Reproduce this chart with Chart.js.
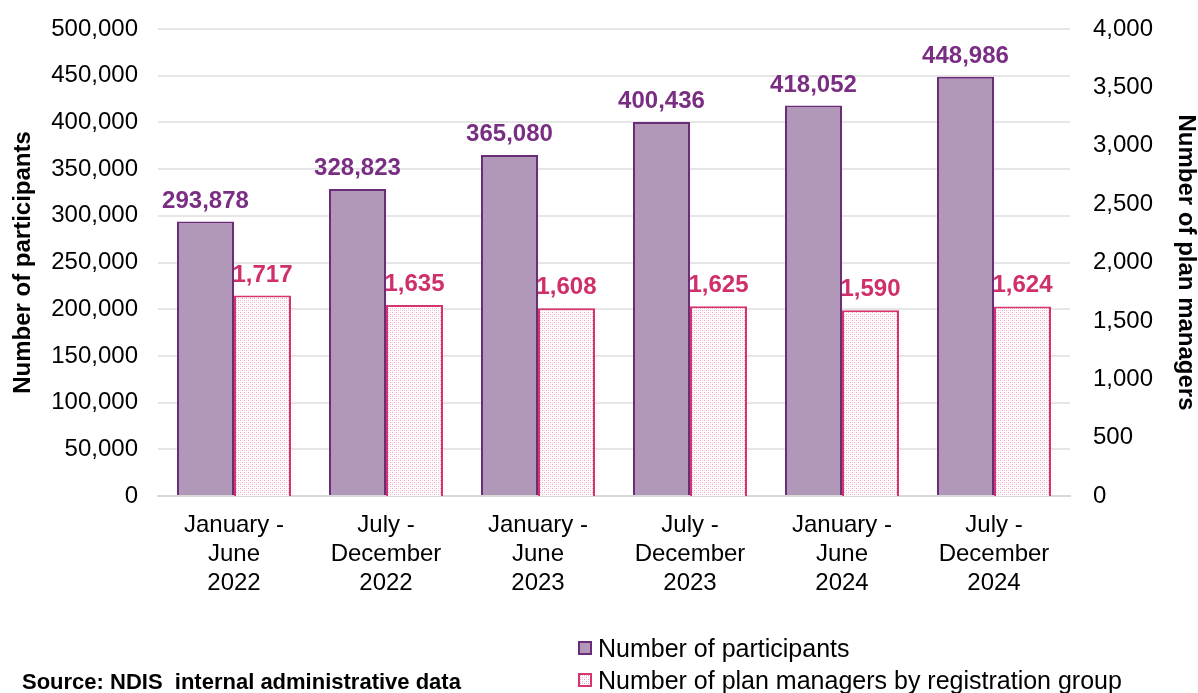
<!DOCTYPE html>
<html>
<head>
<meta charset="utf-8">
<script src="https://cdn.jsdelivr.net/npm/chart.js@4.4.1/dist/chart.umd.min.js"></script>
<style>
  html, body { margin: 0; padding: 0; background: #fff; }
  #wrap { position: relative; width: 1198px; height: 693px; font-family: 'Liberation Sans', Arial, sans-serif; }
  #chart { position: absolute; left: 0; top: 0; }
  .legend { position: absolute; left: 578px; top: 632px; font-size: 25px; color: #000; }
  .legend div { height: 32px; line-height: 32px; display: flex; align-items: center; }
  .legend span.box { display: inline-block; width: 14px; height: 14px; margin-right: 6px; box-sizing: border-box; }
  .source { position: absolute; left: 22px; top: 669px; font-size: 22px; font-weight: bold; color: #000; white-space: pre; }
</style>
</head>
<body>
<div id="wrap">
  <canvas id="chart" width="1198" height="693"></canvas>
  <div class="legend">
    <div><span class="box" style="background:#B197B8;border:2px solid #6B2C7A"></span>Number of participants</div>
    <div><span class="box" id="pmBox" style="border:2px solid #D6336F"></span>Number of plan managers by registration group</div>
  </div>
  <div class="source">Source: NDIS  internal administrative data</div>
</div>
<script>
const periods = [
  ['January -', 'June', '2022'],
  ['July -', 'December', '2022'],
  ['January -', 'June', '2023'],
  ['July -', 'December', '2023'],
  ['January -', 'June', '2024'],
  ['July -', 'December', '2024']
]
const participants = [293878, 328823, 365080, 400436, 418052, 448986]
const planManagers = [1717, 1635, 1608, 1625, 1590, 1624]

const FONT = "'Liberation Sans', Arial, sans-serif"

// fine dotted fill for the plan manager bars
const makeDots = () => {
  const c = document.createElement('canvas')
  c.width = 4
  c.height = 4
  const g = c.getContext('2d')
  g.fillStyle = '#fff'
  g.fillRect(0, 0, 4, 4)
  g.fillStyle = '#EBA3BF'
  g.fillRect(0, 0, 1, 1)
  g.fillRect(2, 2, 1, 1)
  g.fillStyle = '#F6D3E0'
  g.fillRect(2, 0, 1, 1)
  g.fillRect(0, 2, 1, 1)
  return c
}
const dotCanvas = makeDots()
const ctx = document.getElementById('chart').getContext('2d')
const dots = ctx.createPattern(dotCanvas, 'repeat')
document.getElementById('pmBox').style.background = 'url(' + dotCanvas.toDataURL() + ')'

const valueLabels = {
  id: 'valueLabels',
  afterDatasetsDraw (chart) {
    const c = chart.ctx
    c.save()
    c.font = 'bold 24px ' + FONT
    c.textAlign = 'center'
    c.textBaseline = 'alphabetic'
    chart.data.datasets.forEach((ds, i) => {
      const meta = chart.getDatasetMeta(i)
      c.fillStyle = ds.labelColor
      meta.data.forEach((bar, j) => {
        c.fillText(ds.data[j].toLocaleString('en-US'), bar.x, bar.y - 14)
      })
    })
    c.restore()
  }
}

// keep the plot area edges fixed, ignoring tick label overhang
const fixedWidth = (w) => (s) => {
  s.width = w
  s.paddingTop = 0
  s.paddingBottom = 0
}

new Chart(ctx, {
  type: 'bar',
  data: {
    labels: periods,
    datasets: [
      {
        label: 'Number of participants',
        data: participants,
        yAxisID: 'y',
        backgroundColor: '#B197B8',
        borderColor: '#6B2C7A',
        borderWidth: 2,
        labelColor: '#7A2E83'
      },
      {
        label: 'Number of plan managers by registration group',
        data: planManagers,
        yAxisID: 'y1',
        backgroundColor: dots,
        borderColor: '#D6336F',
        borderWidth: 2,
        labelColor: '#CF2F6B'
      }
    ]
  },
  options: {
    responsive: false,
    animation: false,
    categoryPercentage: 0.75,
    barPercentage: 1,
    layout: { padding: { top: 29, left: 0, right: 0, bottom: 0 } },
    plugins: {
      legend: { display: false },
      tooltip: { enabled: false }
    },
    scales: {
      x: {
        afterFit: (s) => { s.height = 197 },
        grid: { display: false },
        border: { color: '#D9D9D9', width: 2 },
        ticks: {
          color: '#000',
          padding: 7,
          maxRotation: 0,
          autoSkip: false,
          font: { family: FONT, size: 24, lineHeight: 1.2 }
        }
      },
      y: {
        position: 'left',
        min: 0,
        max: 500000,
        afterFit: fixedWidth(158),
        grid: { color: '#E6E6E6', lineWidth: 2, drawTicks: false },
        border: { display: false },
        ticks: {
          stepSize: 50000,
          color: '#000',
          padding: 20,
          font: { family: FONT, size: 24 },
          callback: (v) => v.toLocaleString('en-US')
        },
        title: {
          display: true,
          text: 'Number of participants',
          color: '#000',
          padding: { top: 11, bottom: 0 },
          font: { family: FONT, size: 24, weight: 'bold', lineHeight: 1 }
        }
      },
      y1: {
        position: 'right',
        min: 0,
        max: 4000,
        afterFit: fixedWidth(128),
        grid: { display: false, drawTicks: false },
        border: { display: false },
        ticks: {
          stepSize: 500,
          color: '#000',
          padding: 23,
          font: { family: FONT, size: 24 },
          callback: (v) => v.toLocaleString('en-US')
        },
        title: {
          display: true,
          text: 'Number of plan managers',
          color: '#000',
          padding: { top: 0, bottom: 0 },
          font: { family: FONT, size: 24, weight: 'bold', lineHeight: 1 }
        }
      }
    }
  },
  plugins: [valueLabels]
})
</script>
</body>
</html>
